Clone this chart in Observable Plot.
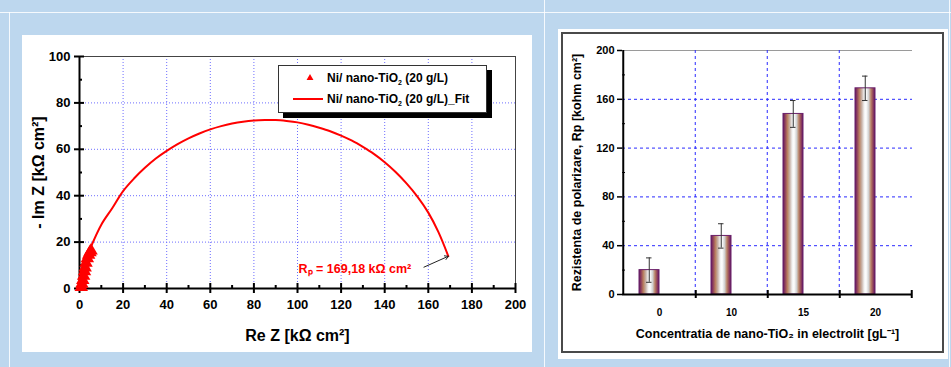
<!DOCTYPE html>
<html>
<head>
<meta charset="utf-8">
<script src="https://cdn.jsdelivr.net/npm/d3@7"></script>
<script src="https://cdn.jsdelivr.net/npm/@observablehq/plot@0.6"></script>
<style>
  html, body { margin:0; padding:0; }
  body { width:951px; height:367px; overflow:hidden; position:relative; background:#bdd7ee; font-family:'Liberation Sans', Arial, sans-serif; }
  .abs { position:absolute; }
  .wl { position:absolute; background:rgba(255,255,255,0.85); }
</style>
</head>
<body>
<div class="wl" style="left:0;top:12px;width:951px;height:1px"></div>
<div class="wl" style="left:9px;top:12px;width:1px;height:355px"></div>
<div class="wl" style="left:544px;top:0;width:1px;height:367px"></div>
<div class="wl" style="left:949px;top:0;width:1px;height:367px"></div>
<div class="abs" style="left:22px;top:35px;width:510px;height:317px;background:#fff"></div>
<div class="abs" style="left:558px;top:29px;width:390px;height:330px;background:#fff"></div>
<div id="leftChart" class="abs" style="left:22px;top:35px"></div>
<div id="rightChart" class="abs" style="left:561px;top:32px;width:383px;height:321px;box-sizing:border-box;border:2px solid #4a4a4a"></div>
<div id="legend" class="abs" style="left:278px;top:65px;width:209px;height:48px;box-sizing:border-box;border:1px solid #333;background:#fff;box-shadow:5px 5px 0 #000"></div>
<script>
// ---------- Left chart data (Nyquist) ----------
const reZ = [0.8, 1.1, 1.5, 1.9, 2.3, 2.6, 3.0, 3.6, 4.2, 4.8, 5.3];
const imZ = [0.6, 2.0, 3.6, 5.4, 7.4, 9.0, 11.0, 13.0, 14.5, 15.6, 16.3];
const fitRe = [4.8, 10, 15, 20, 25, 30, 35, 40, 45, 50, 55, 60, 65, 70, 75, 80, 85, 90, 95, 100, 105, 110, 115, 120, 125, 130, 135, 140, 145, 150, 155, 160, 164.6, 169.2];
const fitIm = [17.0, 27.5, 34.6, 42.0, 47.4, 52.0, 56.0, 59.3, 62.2, 64.7, 66.8, 68.6, 70.0, 71.1, 71.9, 72.4, 72.6, 72.6, 72.2, 71.6, 70.6, 69.3, 67.8, 65.9, 63.7, 61.0, 58.0, 54.4, 50.2, 45.3, 39.6, 32.7, 24.4, 13.9];
const xTicks = [0, 20, 40, 60, 80, 100, 120, 140, 160, 180, 200];
const xMinor = [10, 30, 50, 70, 90, 110, 130, 150, 170, 190];
const yTicks = [0, 20, 40, 60, 80, 100];
const yMinor = [10, 30, 50, 70, 90];
const gridXv = [20, 40, 60, 80, 100, 120, 140, 160, 180];
const gridYv = [20, 40, 60, 80];
const rpText = ["Rₚ = 169,18 kΩ cm²"];
const rpTextX = [100.5];
const rpTextY = [8.5];
const arrowFrom = [158, 9.2];
const arrowTo = [169.2, 13.9];
const legendLabels = ["Ni/ nano-TiO", "2", " (20 g/L)", "_Fit"];
const leftXTitle = "Re Z [kΩ cm²]";
const leftYTitle = "- Im Z [kΩ cm²]";

// ---------- Right chart data (bars) ----------
const conc = ["0", "10", "15", "20"];
const rp = [20, 48, 148, 169];
const rpErr = [10, 10, 11, 10];
const rpTicks = [0, 40, 80, 120, 160, 200];
const rpMinor = [20, 60, 100, 140, 180];
const rpGrid = [40, 80, 120, 160];
const rightXTitle = "Concentratia de nano-TiO₂ in electrolit [gL⁻¹]";
const rightYTitle = "Rezistenta de polarizare, Rp [kohm cm²]";

const FONT = "'Liberation Sans', Arial, sans-serif";
const blank = () => "";

// ---------- Left chart ----------
const left = Plot.plot({
  width: 510, height: 317,
  marginLeft: 57, marginRight: 17, marginTop: 21, marginBottom: 64,
  style: {fontFamily: FONT, fontSize: "13px", fontWeight: "bold", background: "transparent", color: "#000", overflow: "visible"},
  x: {domain: [0, 200]},
  y: {domain: [0, 100]},
  marks: [
    Plot.gridX(gridXv, {stroke: "#6d6dff", strokeOpacity: 1, strokeDasharray: "1,2", strokeWidth: 1}),
    Plot.gridY(gridYv, {stroke: "#6d6dff", strokeOpacity: 1, strokeDasharray: "1,2", strokeWidth: 1}),
    Plot.frame({stroke: "#444", strokeWidth: 1}),
    Plot.ruleX([0], {stroke: "#000", strokeWidth: 2}),
    Plot.ruleY([0], {stroke: "#000", strokeWidth: 2}),
    Plot.axisX(xTicks, {tickSize: 0, tickPadding: 11, label: null, fontSize: 13, fontWeight: "bold"}),
    Plot.axisX(xTicks, {tickSize: 5, tickFormat: blank, label: null, strokeWidth: 2}),
    Plot.axisX(xTicks, {tickSize: -5, tickFormat: blank, label: null, strokeWidth: 2}),
    Plot.axisX(xMinor, {tickSize: -3, tickFormat: blank, label: null, strokeWidth: 2}),
    Plot.axisY(yTicks, {tickSize: 0, tickPadding: 9, label: null, fontSize: 13, fontWeight: "bold"}),
    Plot.axisY(yTicks, {tickSize: 5, tickFormat: blank, label: null, strokeWidth: 2}),
    Plot.axisY(yTicks, {tickSize: -5, tickFormat: blank, label: null, strokeWidth: 2}),
    Plot.axisY(yMinor, {tickSize: -3, tickFormat: blank, label: null, strokeWidth: 2}),
    Plot.line(fitRe, {x: fitRe, y: fitIm, stroke: "#ff0000", strokeWidth: 2, curve: "catmull-rom"}),
    Plot.dot(reZ, {x: reZ, y: imZ, symbol: "triangle", fill: "#ff0000", r: 5}),
    Plot.text(rpText, {x: rpTextX, y: rpTextY, textAnchor: "start", fill: "#ff0000", fontSize: 12.5, fontWeight: "bold"}),
    Plot.arrow([0], {x1: [arrowFrom[0]], y1: [arrowFrom[1]], x2: [arrowTo[0]], y2: [arrowTo[1]], stroke: "#222", strokeWidth: 1, headLength: 6}),
    Plot.text([leftYTitle], {frameAnchor: "left", textAnchor: "middle", rotate: -90, dx: -41, fontSize: 16, fontWeight: "bold"}),
    Plot.text([leftXTitle], {frameAnchor: "bottom", textAnchor: "middle", dy: 47, lineAnchor: "middle", fontSize: 16, fontWeight: "bold"})
  ]
});
document.getElementById("leftChart").appendChild(left);

// ---------- Legend (left chart) ----------
const lg = d3.select("#legend").append("svg").attr("width", 207).attr("height", 46)
  .style("position", "absolute").style("left", "0").style("top", "0")
  .style("font-family", FONT).style("font-size", "12px").style("font-weight", "bold");
lg.append("path").attr("d", d3.symbol(d3.symbolTriangle2, 34)()).attr("transform", "translate(31,12)").attr("fill", "#ff0000");
lg.append("line").attr("x1", 14).attr("x2", 44).attr("y1", 33).attr("y2", 33).attr("stroke", "#ff0000").attr("stroke-width", 2);
[12, 33].forEach((yy, i) => {
  const t = lg.append("text").attr("x", 48).attr("y", yy).attr("dy", "0.35em").attr("fill", "#000");
  t.append("tspan").text(legendLabels[0]);
  t.append("tspan").attr("font-size", "7px").attr("dy", "3").text(legendLabels[1]);
  t.append("tspan").attr("dy", "-3").text(legendLabels[2] + (i === 1 ? legendLabels[3] : ""));
});

// ---------- Right chart ----------
const RW = 379, RH = 317, RML = 59, RMR = 30, RMT = 16, RMB = 57;
const step = (RW - RML - RMR) / conc.length;
const right = Plot.plot({
  width: RW, height: RH,
  marginLeft: RML, marginRight: RMR, marginTop: RMT, marginBottom: RMB,
  style: {fontFamily: FONT, fontSize: "11px", fontWeight: "bold", background: "transparent", color: "#000", overflow: "visible"},
  x: {domain: conc, padding: 0, label: null},
  y: {domain: [0, 200]},
  marks: [
    Plot.ruleY(rpGrid, {stroke: "#2a2aff", strokeDasharray: "3,3", strokeWidth: 1}),
    Plot.ruleY([200], {stroke: "#9a9a9a", strokeWidth: 1}),
    Plot.ruleX(conc.slice(1), {x: d => d, dx: -step / 2, stroke: "#2a2aff", strokeDasharray: "3,3", strokeWidth: 1}),
    Plot.barY(conc, {x: conc, y: rp, fill: "url(#barGrad)", stroke: "#6b1f6b", strokeWidth: 1, insetLeft: 16, insetRight: 36}),
    Plot.ruleX(conc, {x: conc, y1: rp.map((v, i) => v - rpErr[i]), y2: rp.map((v, i) => v + rpErr[i]), dx: -(step / 2 - 26), stroke: "#333", strokeWidth: 1}),
    Plot.tickY(conc, {x: conc, y: rp.map((v, i) => v + rpErr[i]), insetLeft: 23, insetRight: step - 29, stroke: "#333", strokeWidth: 1}),
    Plot.tickY(conc, {x: conc, y: rp.map((v, i) => v - rpErr[i]), insetLeft: 23, insetRight: step - 29, stroke: "#333", strokeWidth: 1}),
    Plot.ruleY([0], {stroke: "#000", strokeWidth: 2}),
    Plot.ruleX([conc[0]], {x: d => d, y1: 0, y2: 200, dx: -step / 2, stroke: "#000", strokeWidth: 2}),
    Plot.axisX(conc, {tickSize: 0, tickPadding: 14, label: null, fontSize: 10, fontWeight: "bold"}),
    Plot.axisX(conc, {tickSize: 4, dx: step / 2, tickFormat: blank, label: null, strokeWidth: 2}),
    Plot.axisX(conc, {tickSize: -4, dx: step / 2, tickFormat: blank, label: null, strokeWidth: 2}),
    Plot.axisY(rpTicks, {tickSize: 5, tickPadding: 3, label: null, fontSize: 11, fontWeight: "bold", strokeWidth: 1.5}),
    Plot.axisY(rpMinor, {tickSize: -3, tickFormat: blank, label: null, strokeWidth: 1}),
    Plot.text([rightYTitle], {frameAnchor: "left", textAnchor: "middle", rotate: -90, dx: -46, fontSize: 12.5, fontWeight: "bold"}),
    Plot.text([rightXTitle], {frameAnchor: "bottom", textAnchor: "middle", dy: 39, lineAnchor: "middle", fontSize: 12.5, fontWeight: "bold"})
  ]
});
const defs = d3.select(right).insert("defs", ":first-child");
const grad = defs.append("linearGradient").attr("id", "barGrad").attr("x1", "0").attr("x2", "1").attr("y1", "0").attr("y2", "0");
[[0, "#5c1a60"], [0.1, "#8e3d5c"], [0.22, "#b9805f"], [0.34, "#c8b2a8"], [0.46, "#f2f2f2"], [0.55, "#ffffff"], [0.68, "#d2d2d2"], [0.8, "#b88063"], [0.91, "#8e3d5c"], [1, "#5c1a60"]]
  .forEach(([o, c]) => grad.append("stop").attr("offset", o).attr("stop-color", c));
document.getElementById("rightChart").appendChild(right);
</script>
</body>
</html>
